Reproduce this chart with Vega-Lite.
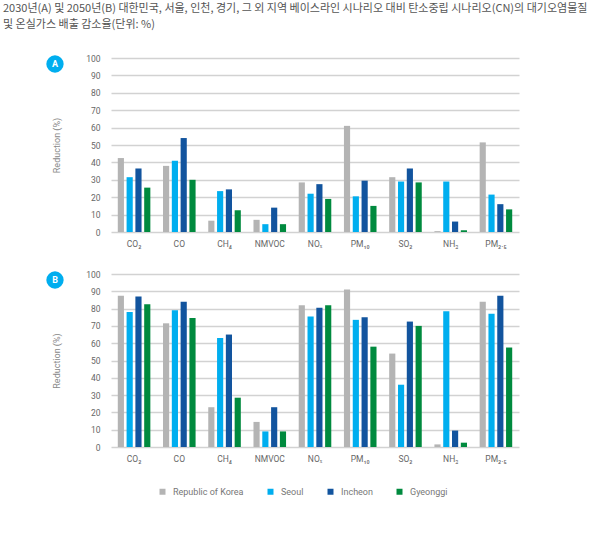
{
  "$schema": "https://vega.github.io/schema/vega-lite/v6.json",
  "padding": {"left": 3, "top": 3, "right": 0, "bottom": 0},
  "background": "white",
  "title": {
    "text": ["2030년(A) 및 2050년(B) 대한민국, 서울, 인천, 경기, 그 외 지역 베이스라인 시나리오 대비 탄소중립 시나리오(CN)의 대기오염물질", "및 온실가스 배출 감소율(단위: %)"],
    "anchor": "start",
    "font": "Noto Sans CJK KR",
    "fontSize": 11,
    "fontWeight": "normal",
    "color": "#555555",
    "lineHeight": 16,
    "offset": 24
  },
  "datasets": {
    "badges": [{"panel": "A"}, {"panel": "B"}],
    "reduction": [
      {"year": "A", "pollutant": "CO₂", "region": "Republic of Korea", "value": 42.5},
      {"year": "A", "pollutant": "CO₂", "region": "Seoul", "value": 31.5},
      {"year": "A", "pollutant": "CO₂", "region": "Incheon", "value": 36.5},
      {"year": "A", "pollutant": "CO₂", "region": "Gyeonggi", "value": 25.5},
      {"year": "A", "pollutant": "CO", "region": "Republic of Korea", "value": 38},
      {"year": "A", "pollutant": "CO", "region": "Seoul", "value": 41},
      {"year": "A", "pollutant": "CO", "region": "Incheon", "value": 54},
      {"year": "A", "pollutant": "CO", "region": "Gyeonggi", "value": 30},
      {"year": "A", "pollutant": "CH₄", "region": "Republic of Korea", "value": 6.5},
      {"year": "A", "pollutant": "CH₄", "region": "Seoul", "value": 23.5},
      {"year": "A", "pollutant": "CH₄", "region": "Incheon", "value": 24.5},
      {"year": "A", "pollutant": "CH₄", "region": "Gyeonggi", "value": 12.5},
      {"year": "A", "pollutant": "NMVOC", "region": "Republic of Korea", "value": 7},
      {"year": "A", "pollutant": "NMVOC", "region": "Seoul", "value": 4.5},
      {"year": "A", "pollutant": "NMVOC", "region": "Incheon", "value": 14},
      {"year": "A", "pollutant": "NMVOC", "region": "Gyeonggi", "value": 4.5},
      {"year": "A", "pollutant": "NOₓ", "region": "Republic of Korea", "value": 28.5},
      {"year": "A", "pollutant": "NOₓ", "region": "Seoul", "value": 22},
      {"year": "A", "pollutant": "NOₓ", "region": "Incheon", "value": 27.5},
      {"year": "A", "pollutant": "NOₓ", "region": "Gyeonggi", "value": 19},
      {"year": "A", "pollutant": "PM₁₀", "region": "Republic of Korea", "value": 61},
      {"year": "A", "pollutant": "PM₁₀", "region": "Seoul", "value": 20.5},
      {"year": "A", "pollutant": "PM₁₀", "region": "Incheon", "value": 29.5},
      {"year": "A", "pollutant": "PM₁₀", "region": "Gyeonggi", "value": 15},
      {"year": "A", "pollutant": "SO₂", "region": "Republic of Korea", "value": 31.5},
      {"year": "A", "pollutant": "SO₂", "region": "Seoul", "value": 29},
      {"year": "A", "pollutant": "SO₂", "region": "Incheon", "value": 36.5},
      {"year": "A", "pollutant": "SO₂", "region": "Gyeonggi", "value": 28.5},
      {"year": "A", "pollutant": "NH₃", "region": "Republic of Korea", "value": 0.5},
      {"year": "A", "pollutant": "NH₃", "region": "Seoul", "value": 29},
      {"year": "A", "pollutant": "NH₃", "region": "Incheon", "value": 6},
      {"year": "A", "pollutant": "NH₃", "region": "Gyeonggi", "value": 1},
      {"year": "A", "pollutant": "PM₂.₅", "region": "Republic of Korea", "value": 51.5},
      {"year": "A", "pollutant": "PM₂.₅", "region": "Seoul", "value": 21.5},
      {"year": "A", "pollutant": "PM₂.₅", "region": "Incheon", "value": 16},
      {"year": "A", "pollutant": "PM₂.₅", "region": "Gyeonggi", "value": 13},
      {"year": "B", "pollutant": "CO₂", "region": "Republic of Korea", "value": 87.5},
      {"year": "B", "pollutant": "CO₂", "region": "Seoul", "value": 78},
      {"year": "B", "pollutant": "CO₂", "region": "Incheon", "value": 87},
      {"year": "B", "pollutant": "CO₂", "region": "Gyeonggi", "value": 82.5},
      {"year": "B", "pollutant": "CO", "region": "Republic of Korea", "value": 71.5},
      {"year": "B", "pollutant": "CO", "region": "Seoul", "value": 79},
      {"year": "B", "pollutant": "CO", "region": "Incheon", "value": 84},
      {"year": "B", "pollutant": "CO", "region": "Gyeonggi", "value": 74.5},
      {"year": "B", "pollutant": "CH₄", "region": "Republic of Korea", "value": 23},
      {"year": "B", "pollutant": "CH₄", "region": "Seoul", "value": 63},
      {"year": "B", "pollutant": "CH₄", "region": "Incheon", "value": 65},
      {"year": "B", "pollutant": "CH₄", "region": "Gyeonggi", "value": 28.5},
      {"year": "B", "pollutant": "NMVOC", "region": "Republic of Korea", "value": 14.5},
      {"year": "B", "pollutant": "NMVOC", "region": "Seoul", "value": 9},
      {"year": "B", "pollutant": "NMVOC", "region": "Incheon", "value": 23},
      {"year": "B", "pollutant": "NMVOC", "region": "Gyeonggi", "value": 9},
      {"year": "B", "pollutant": "NOₓ", "region": "Republic of Korea", "value": 82},
      {"year": "B", "pollutant": "NOₓ", "region": "Seoul", "value": 75.5},
      {"year": "B", "pollutant": "NOₓ", "region": "Incheon", "value": 80.5},
      {"year": "B", "pollutant": "NOₓ", "region": "Gyeonggi", "value": 82},
      {"year": "B", "pollutant": "PM₁₀", "region": "Republic of Korea", "value": 91},
      {"year": "B", "pollutant": "PM₁₀", "region": "Seoul", "value": 73.5},
      {"year": "B", "pollutant": "PM₁₀", "region": "Incheon", "value": 75},
      {"year": "B", "pollutant": "PM₁₀", "region": "Gyeonggi", "value": 58},
      {"year": "B", "pollutant": "SO₂", "region": "Republic of Korea", "value": 54},
      {"year": "B", "pollutant": "SO₂", "region": "Seoul", "value": 36},
      {"year": "B", "pollutant": "SO₂", "region": "Incheon", "value": 72.5},
      {"year": "B", "pollutant": "SO₂", "region": "Gyeonggi", "value": 70},
      {"year": "B", "pollutant": "NH₃", "region": "Republic of Korea", "value": 1.5},
      {"year": "B", "pollutant": "NH₃", "region": "Seoul", "value": 78.5},
      {"year": "B", "pollutant": "NH₃", "region": "Incheon", "value": 9.5},
      {"year": "B", "pollutant": "NH₃", "region": "Gyeonggi", "value": 2.5},
      {"year": "B", "pollutant": "PM₂.₅", "region": "Republic of Korea", "value": 84},
      {"year": "B", "pollutant": "PM₂.₅", "region": "Seoul", "value": 77},
      {"year": "B", "pollutant": "PM₂.₅", "region": "Incheon", "value": 87.5},
      {"year": "B", "pollutant": "PM₂.₅", "region": "Gyeonggi", "value": 57.5}
    ]
  },
  "vconcat": [
    {
      "hconcat": [
        {
          "width": 104, "height": 20,
          "data": {"name": "badges"},
          "transform": [{"filter": "datum.panel === 'A'"}],
          "layer": [
            {"mark": {"type": "point", "shape": "circle", "filled": true, "size": 300, "color": "#00aeef", "opacity": 1, "yOffset": -4}, "encoding": {}},
            {"mark": {"type": "text", "color": "white", "font": "Roboto", "fontSize": 9, "fontWeight": "bold", "yOffset": -4}, "encoding": {"text": {"field": "panel"}}}
          ]
        },
        {
          "width": 408, "height": 174,
          "data": {"name": "reduction"},
          "transform": [{"filter": "datum.year === 'A'"}],
          "mark": {"type": "bar"},
          "encoding": {
            "x": {"field": "pollutant", "type": "nominal", "sort": ["CO₂", "CO", "CH₄", "NMVOC", "NOₓ", "PM₁₀", "SO₂", "NH₃", "PM₂.₅"], "scale": {"paddingInner": 0.28, "paddingOuter": 0.15}, "axis": {"title": null}},
            "xOffset": {"field": "region", "sort": ["Republic of Korea", "Seoul", "Incheon", "Gyeonggi"], "scale": {"paddingInner": 0.3}},
            "y": {"field": "value", "type": "quantitative", "scale": {"domain": [0, 100]}, "axis": {"title": "Reduction (%)", "values": [0, 10, 20, 30, 40, 50, 60, 70, 80, 90, 100]}},
            "color": {"field": "region", "type": "nominal", "sort": ["Republic of Korea", "Seoul", "Incheon", "Gyeonggi"], "scale": {"domain": ["Republic of Korea", "Seoul", "Incheon", "Gyeonggi"], "range": ["#b4b4b4", "#00aeef", "#12549e", "#008a3e"]}, "legend": {"title": null}}
          }
        }
      ],
      "spacing": -55
    },
    {
      "hconcat": [
        {
          "width": 104, "height": 20,
          "data": {"name": "badges"},
          "transform": [{"filter": "datum.panel === 'B'"}],
          "layer": [
            {"mark": {"type": "point", "shape": "circle", "filled": true, "size": 300, "color": "#00aeef", "opacity": 1, "yOffset": -4}, "encoding": {}},
            {"mark": {"type": "text", "color": "white", "font": "Roboto", "fontSize": 9, "fontWeight": "bold", "yOffset": -4}, "encoding": {"text": {"field": "panel"}}}
          ]
        },
        {
          "width": 408, "height": 173,
          "data": {"name": "reduction"},
          "transform": [{"filter": "datum.year === 'B'"}],
          "mark": {"type": "bar"},
          "encoding": {
            "x": {"field": "pollutant", "type": "nominal", "sort": ["CO₂", "CO", "CH₄", "NMVOC", "NOₓ", "PM₁₀", "SO₂", "NH₃", "PM₂.₅"], "scale": {"paddingInner": 0.28, "paddingOuter": 0.15}, "axis": {"title": null}},
            "xOffset": {"field": "region", "sort": ["Republic of Korea", "Seoul", "Incheon", "Gyeonggi"], "scale": {"paddingInner": 0.3}},
            "y": {"field": "value", "type": "quantitative", "scale": {"domain": [0, 100]}, "axis": {"title": "Reduction (%)", "values": [0, 10, 20, 30, 40, 50, 60, 70, 80, 90, 100]}},
            "color": {"field": "region", "type": "nominal", "sort": ["Republic of Korea", "Seoul", "Incheon", "Gyeonggi"], "scale": {"domain": ["Republic of Korea", "Seoul", "Incheon", "Gyeonggi"], "range": ["#b4b4b4", "#00aeef", "#12549e", "#008a3e"]}, "legend": {"title": null}}
          }
        }
      ],
      "spacing": -55
    }
  ],
  "spacing": 22,
  "resolve": {"scale": {"x": "independent", "y": "independent"}},
  "config": {
    "view": {"stroke": null},
    "font": "Roboto",
    "axis": {
      "labelFont": "Roboto",
      "labelColor": "#666666",
      "labelFontSize": 8.5,
      "titleFont": "Roboto",
      "titleColor": "#888888",
      "titleFontSize": 9,
      "titleFontWeight": "normal",
      "ticks": false,
      "domain": false
    },
    "axisY": {"grid": true, "gridColor": "#d2d2d2", "gridWidth": 1.3, "labelPadding": 11, "titlePadding": 24},
    "axisX": {"grid": false, "labelAngle": 0, "labelPadding": 7},
    "legend": {
      "orient": "none",
      "legendX": 155,
      "legendY": 429,
      "direction": "horizontal",
      "symbolType": "square",
      "symbolSize": 36,
      "symbolStrokeWidth": 0,
      "labelFont": "Roboto",
      "labelFontSize": 9,
      "labelColor": "#777777",
      "labelOffset": 6,
      "columnPadding": 22
    }
  }
}
